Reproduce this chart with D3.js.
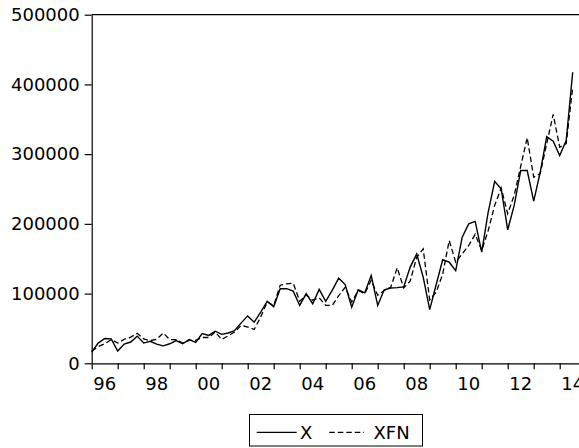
<!DOCTYPE html>
<html>
<head>
<meta charset="utf-8">
<script src="https://cdn.jsdelivr.net/npm/d3@7"></script>
<style>
  html, body { margin: 0; padding: 0; background: #fff; }
  svg { display: block; }
  text { font-family: "DejaVu Sans", "Liberation Sans", sans-serif; fill: #000; }
</style>
</head>
<body>
<svg id="chart" width="579" height="448"></svg>
<script>
// Quarterly observations, 1996Q1 .. 2014Q3
const startYear = 1996;
const seriesX = [
  16000, 29000, 35500, 35000, 17500, 27500, 30500, 39000,
  29000, 31500, 27500, 25000, 28000, 32500, 28000, 34000,
  30000, 42500, 40000, 46000, 41500, 43500, 47000, 58000,
  68000, 59000, 73500, 89000, 81000, 107000, 107000, 103500,
  83000, 100000, 85500, 106000, 89000, 104500, 122000, 113000,
  80500, 105500, 101000, 126000, 83000, 105500, 108000, 108500,
  109500, 138000, 157000, 123500, 77000, 113000, 148500, 145000,
  133000, 181000, 200000, 203500, 159500, 217000, 261000, 250000,
  191500, 226500, 276500, 276500, 232500, 274000, 325000, 318500,
  298000, 319500, 417500
];
const seriesXFN = [
  17500, 24000, 28000, 34000, 29000, 34500, 37500, 43000,
  35000, 32500, 34500, 43500, 34000, 34000, 29000, 33000,
  33000, 37000, 37000, 45000, 34000, 39500, 45000, 54500,
  52000, 48500, 66500, 88000, 83000, 112000, 114000, 115000,
  89000, 98000, 90500, 94000, 83000, 83000, 97000, 109000,
  88000, 104500, 100000, 119000, 97500, 104500, 109000, 137000,
  108000, 118000, 152000, 164000, 91000, 102000, 128000, 176000,
  145000, 157000, 169000, 185000, 162000, 190500, 226500, 251500,
  214500, 241000, 282500, 323500, 267000, 272000, 315000, 357000,
  310000, 315000, 396000
];
const yTicks = [0, 100000, 200000, 300000, 400000, 500000];
const yearTicks = d3.range(1996, 2015);
const labelYears = [1996, 1998, 2000, 2002, 2004, 2006, 2008, 2010, 2012, 2014];
const xLabels = ["96", "98", "00", "02", "04", "06", "08", "10", "12", "14"];
const legendNames = ["X", "XFN"];

const svg = d3.select("#chart");
const mLeft = 91.7, mRight = 579.2, mTop = 14.7, mBottom = 363.3;

const x = d3.scaleLinear().domain([1996, 2014.75]).range([mLeft, mRight]);
const y = d3.scaleLinear().domain([0, 500000]).range([mBottom, mTop]);

const tOf = i => startYear + i / 4;

// frame (top edge)
svg.append("line").attr("x1", mLeft).attr("x2", mRight).attr("y1", mTop).attr("y2", mTop)
  .attr("stroke", "#000").attr("stroke-width", 1.2);

// y axis
const yAxis = svg.append("g").attr("transform", `translate(${mLeft},0)`)
  .call(d3.axisLeft(y).tickValues(yTicks).tickSize(7).tickPadding(5).tickSizeOuter(0)
    .tickFormat(d3.format("d")));
yAxis.select(".domain").attr("stroke", "#000").attr("stroke-width", 1.2);
yAxis.selectAll(".tick line").attr("stroke", "#000").attr("stroke-width", 1.2);
yAxis.selectAll(".tick text").attr("font-size", 18).attr("font-family", "DejaVu Sans").attr("fill", "#000");

// x axis
const xAxis = svg.append("g").attr("transform", `translate(0,${mBottom})`)
  .call(d3.axisBottom(x).tickValues(yearTicks).tickSize(6).tickSizeOuter(0).tickFormat(""));
xAxis.select(".domain").attr("stroke", "#000").attr("stroke-width", 1.2);
xAxis.selectAll(".tick line").attr("stroke", "#000").attr("stroke-width", 1.2);

svg.append("g").selectAll("text").data(labelYears).join("text")
  .attr("x", d => x(d + 0.5))
  .attr("y", 389.5)
  .attr("text-anchor", "middle")
  .attr("font-size", 18)
  .text((d, i) => xLabels[i]);

// lines
const line = d3.line().x((d, i) => x(tOf(i))).y(d => y(d));
svg.append("path").datum(seriesXFN).attr("d", line)
  .attr("fill", "none").attr("stroke", "#000").attr("stroke-width", 1.3)
  .attr("stroke-dasharray", "5.5,3");
svg.append("path").datum(seriesX).attr("d", line)
  .attr("fill", "none").attr("stroke", "#000").attr("stroke-width", 1.4);

// legend
const lg = svg.append("g");
lg.append("rect").attr("x", 249.5).attr("y", 414.5).attr("width", 173).attr("height", 31.5)
  .attr("fill", "#fff").attr("stroke", "#000").attr("stroke-width", 1);
lg.append("line").attr("x1", 256.7).attr("x2", 296.7).attr("y1", 432.3).attr("y2", 432.3)
  .attr("stroke", "#000").attr("stroke-width", 1.3);
lg.append("text").attr("x", 300).attr("y", 438.5).attr("font-size", 18).text(legendNames[0]);
lg.append("line").attr("x1", 329.3).attr("x2", 364).attr("y1", 432.3).attr("y2", 432.3)
  .attr("stroke", "#000").attr("stroke-width", 1.3).attr("stroke-dasharray", "5.5,3");
lg.append("text").attr("x", 373.5).attr("y", 438.5).attr("font-size", 18).text(legendNames[1]);
</script>
</body>
</html>
